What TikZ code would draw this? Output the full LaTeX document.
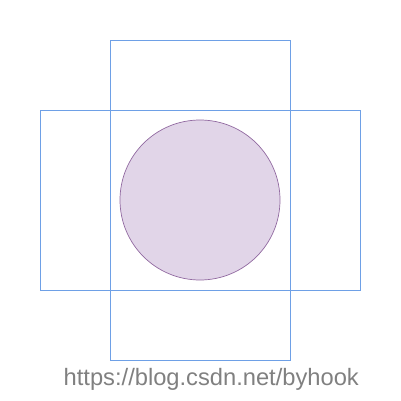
\documentclass[tikz,border=0pt]{standalone}
\usepackage{fontspec}
\setmainfont{Liberation Sans}
\definecolor{rectblue}{RGB}{110,160,230}
\definecolor{circfill}{RGB}{225,213,232}
\definecolor{circline}{RGB}{145,105,160}
\definecolor{wmgray}{RGB}{128,128,128}
\begin{document}
\begin{tikzpicture}[x=1pt,y=-1pt,
  frame/.style={draw=rectblue,line width=0.9pt},
  disc/.style={circle,draw=circline,fill=circfill,line width=0.7pt,minimum size=160pt,inner sep=0pt},
  wm/.style={text=wmgray,font=\fontsize{23.7}{28}\selectfont,inner sep=0pt,anchor=base west}]
\useasboundingbox (0,0) rectangle (401,401);
\node[disc] (c) at (200,200) {};
\draw[frame] (110,40) rectangle (290,360);
\draw[frame] (40,110) rectangle (360,290);
\node[wm] (t) at (63.5,385.5) {https://blog.csdn.net/byhook};
\end{tikzpicture}
\end{document}
